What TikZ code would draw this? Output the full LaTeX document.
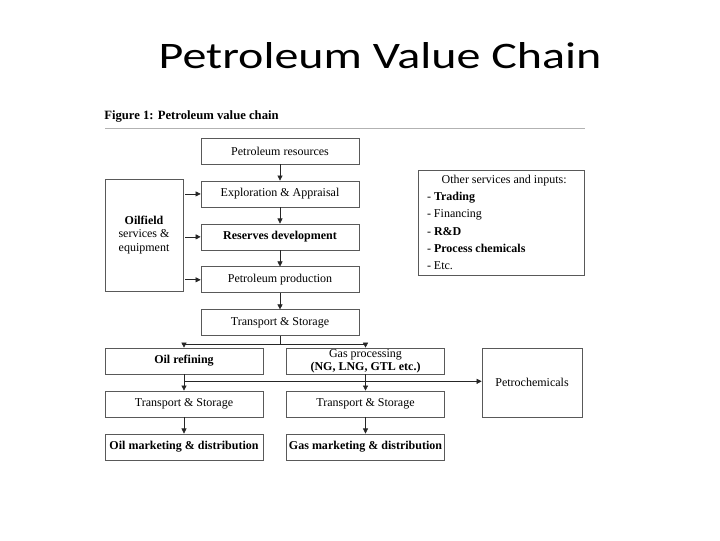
\documentclass[tikz,border=0pt]{standalone}
\usepackage{fontspec}
\setmainfont{Liberation Serif}
\newfontfamily\titlefont{Carlito}
\usetikzlibrary{positioning}
\usetikzlibrary{arrows.meta}

\begin{document}
\begin{tikzpicture}[x=0.75pt, y=-0.75pt,
    box/.style={draw=black!65, line width=0.5pt, minimum width=118.5pt, minimum height=19.5pt, inner sep=1pt, align=center, font=\fontsize{9}{10}\selectfont},
    flow/.style={-{Triangle[length=3.8pt,width=3.8pt]}, line width=0.5pt, black!85},
    node distance=12.2pt]
    \useasboundingbox (0,0) rectangle (720,540);

    \node[font=\titlefont\fontsize{36}{38}\selectfont] (title) at (380,56) {\scalebox{1}[0.78]{Petroleum Value Chain}};
    \node[anchor=west, inner sep=0pt, font=\fontsize{9.5}{11}\selectfont\bfseries] (cap) at (104,116) {Figure 1: Petroleum value chain};
    \draw[black!30, line width=0.6pt] (105,128) -- (585,128);

    % upstream
    \node[box] (res) at (280,151) {Petroleum resources};
    \node[box, below=of res] (expl) {Exploration \& Appraisal};
    \node[box, below=of expl] (resv) {\textbf{Reserves development}};
    \node[box, below=of resv] (prod) {Petroleum production};
    \node[box, below=of prod] (ts) {Transport \& Storage};

    \node[box, minimum width=58.5pt, minimum height=84pt] (oilf) at (144,235) {\textbf{Oilfield}\\services \&\\equipment};

    \node[draw=black!65, line width=0.5pt, text width=111pt, inner xsep=6.75pt, inner ysep=2pt, minimum height=78.75pt, align=flush left, font=\fontsize{9}{13}\selectfont] (other) at (501,222.5)
        {\hspace*{11pt}Other services and inputs:\\- \textbf{Trading}\\- Financing\\- \textbf{R\&D}\\- \textbf{Process chemicals}\\- Etc.};

    % downstream
    \node[box] (refin) at (184,361) {\textbf{Oil refining}};
    \node[box, below=of refin] (tsoil) {Transport \& Storage};
    \node[box, below=of tsoil] (mkoil) {\textbf{Oil marketing \& distribution}};
    \node[box, inner ysep=0pt] (gasp) at (365.5,361) {Gas processing\\\textbf{(NG, LNG, GTL etc.)}};
    \node[box] (tsgas) at (tsoil -| gasp) {Transport \& Storage};
    \node[box, below=of tsgas] (mkgas) {\textbf{Gas marketing \& distribution}};
    \node[box, minimum width=75pt, minimum height=51.75pt] (petch) at (532,382.5) {Petrochemicals};

    \coordinate[below=6pt of ts.south] (split);
    \coordinate[below=5.25pt of refin.south] (oilj);

    \draw[flow] (res) -- (expl);
    \draw[flow] (expl) -- (resv);
    \draw[flow] (resv) -- (prod);
    \draw[flow] (prod) -- (ts);
    \foreach \t in {expl,resv,prod}
        \draw[flow] ([xshift=1.5pt]oilf.east |- \t) -- (\t);

    \draw[line width=0.5pt, black!85] (ts) -- (split);
    \draw[flow] (split) -| (refin);
    \draw[flow] (split) -| (gasp);
    \draw[flow] (refin) -- (tsoil);
    \draw[flow] (tsoil) -- (mkoil);
    \draw[flow] (gasp) -- (tsgas);
    \draw[flow] (tsgas) -- (mkgas);
    \draw[flow] (oilj) -- (oilj -| petch.west);
\end{tikzpicture}
\end{document}
